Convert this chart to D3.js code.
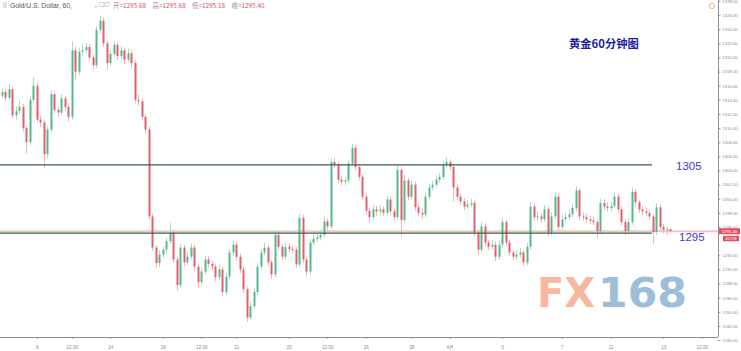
<!DOCTYPE html>
<html>
<head>
<meta charset="utf-8">
<script src="https://cdn.jsdelivr.net/npm/d3@7/dist/d3.min.js"></script>
<style>
    body { margin: 0; background: #fff; }
    svg { display: block; font-family: 'Liberation Sans', Arial, sans-serif; }
    .axis text { fill: #8a8a8a; }
    .axis line { stroke: #9a9a9a; }
</style>
</head>
<body>
<svg id="chart"></svg>
<script>
// hourly candles
const opens = [
    1314.6, 1315.1, 1314.3, 1315.5, 1311.8, 1312.4, 1313.0, 1310.0, 1308.0, 1314.0,
    1316.0, 1311.2, 1310.8, 1306.3, 1309.8, 1314.8, 1312.6, 1312.2, 1314.2, 1313.0,
    1311.6, 1321.0, 1318.0, 1320.8, 1321.0, 1321.5, 1320.0, 1318.9, 1323.9, 1325.2,
    1322.0, 1319.2, 1320.5, 1321.8, 1320.2, 1321.0, 1319.7, 1320.6, 1319.2, 1314.0,
    1313.8, 1311.6, 1309.8, 1297.5, 1293.1, 1290.9, 1292.1, 1292.8, 1294.0, 1295.2,
    1291.4, 1287.8, 1293.1, 1291.0, 1291.8, 1293.1, 1290.4, 1288.2, 1289.7, 1291.4,
    1290.8, 1290.4, 1288.9, 1290.0, 1286.8, 1289.0, 1292.4, 1293.5, 1291.8, 1290.0,
    1287.2, 1283.2, 1284.8, 1286.8, 1290.4, 1292.4, 1293.1, 1291.0, 1289.3, 1294.9,
    1293.2, 1291.8, 1293.2, 1292.9, 1292.8, 1290.7, 1297.3, 1291.4, 1289.7, 1293.8,
    1294.3, 1294.5, 1294.9, 1296.8, 1296.1, 1305.2, 1304.8, 1302.7, 1302.4, 1302.6,
    1305.0, 1307.2, 1304.5, 1303.1, 1300.3, 1298.3, 1297.4, 1298.5, 1298.2, 1298.5,
    1298.0, 1299.9, 1298.2, 1297.4, 1304.1, 1297.0, 1302.6, 1300.3, 1302.0, 1298.8,
    1298.0, 1297.8, 1300.3, 1301.6, 1302.0, 1302.7, 1303.1, 1304.8, 1305.2, 1304.5,
    1301.6, 1300.3, 1299.6, 1298.9, 1299.2, 1299.4, 1295.2, 1292.8, 1296.1, 1293.8,
    1293.2, 1293.5, 1291.8, 1293.5, 1296.7, 1293.8, 1292.4, 1291.8, 1292.1, 1292.4,
    1291.0, 1293.2, 1298.9, 1297.4, 1297.5, 1297.1, 1298.5, 1295.2, 1297.5, 1300.3,
    1296.0, 1297.1, 1297.4, 1297.8, 1298.7, 1301.2, 1297.5, 1297.4, 1297.1, 1296.9,
    1296.7, 1295.4, 1299.4, 1298.9, 1298.7, 1299.0, 1300.3, 1298.5, 1296.7, 1295.4,
    1296.7, 1301.0, 1299.5, 1298.5, 1298.2, 1298.0, 1297.5, 1295.3, 1298.8, 1296.0,
    1295.6, 1295.68
];
const highs = [
    1315.6, 1315.5, 1316.3, 1315.8, 1313.0, 1313.9, 1313.4, 1310.4, 1314.6, 1317.2,
    1316.4, 1311.8, 1311.2, 1310.3, 1315.4, 1315.2, 1313.1, 1314.8, 1314.6, 1313.5,
    1322.3, 1321.5, 1321.4, 1321.8, 1322.1, 1321.9, 1320.4, 1324.4, 1325.9, 1325.6,
    1322.4, 1321.0, 1322.3, 1322.2, 1321.6, 1321.4, 1321.2, 1321.0, 1319.6, 1314.7,
    1314.2, 1312.0, 1310.2, 1297.9, 1293.5, 1292.7, 1293.3, 1294.5, 1296.6, 1295.6,
    1291.8, 1293.6, 1293.5, 1292.4, 1293.7, 1293.5, 1290.8, 1290.3, 1292.0, 1291.9,
    1291.3, 1290.8, 1290.6, 1290.4, 1289.5, 1292.9, 1294.1, 1293.9, 1292.2, 1290.4,
    1287.6, 1285.4, 1287.3, 1290.9, 1292.9, 1293.8, 1293.5, 1291.4, 1295.5, 1295.3,
    1293.6, 1293.8, 1293.7, 1293.4, 1293.2, 1297.9, 1297.7, 1291.8, 1294.3, 1294.9,
    1295.1, 1295.5, 1297.4, 1297.2, 1305.7, 1305.8, 1305.2, 1303.2, 1303.0, 1305.5,
    1307.8, 1307.6, 1304.9, 1303.5, 1300.7, 1298.8, 1299.1, 1299.0, 1299.1, 1298.9,
    1300.4, 1300.3, 1298.6, 1304.8, 1304.5, 1303.4, 1303.0, 1302.6, 1302.4, 1299.3,
    1298.6, 1300.8, 1302.2, 1302.6, 1303.3, 1303.7, 1305.4, 1305.9, 1305.6, 1304.9,
    1302.0, 1300.8, 1300.1, 1299.8, 1300.0, 1299.8, 1295.6, 1296.7, 1296.5, 1294.2,
    1294.1, 1293.9, 1294.0, 1297.3, 1297.1, 1294.2, 1292.8, 1292.7, 1293.0, 1292.8,
    1293.8, 1299.5, 1299.3, 1298.2, 1298.0, 1299.1, 1298.9, 1298.1, 1300.9, 1300.7,
    1297.7, 1298.0, 1298.4, 1299.3, 1301.8, 1301.6, 1298.1, 1297.9, 1297.6, 1297.4,
    1297.1, 1300.0, 1299.9, 1299.4, 1299.6, 1300.9, 1300.7, 1298.9, 1297.1, 1297.3,
    1301.6, 1301.4, 1299.9, 1299.0, 1298.7, 1298.4, 1297.9, 1299.4, 1299.2, 1296.4,
    1296.0, 1295.68
];
const lows = [
    1314.2, 1313.8, 1314.0, 1311.3, 1311.2, 1312.0, 1309.5, 1306.4, 1307.6, 1313.6,
    1310.8, 1310.2, 1304.3, 1305.8, 1309.4, 1312.1, 1311.6, 1311.8, 1312.5, 1310.9,
    1311.2, 1316.8, 1317.5, 1320.2, 1320.6, 1319.5, 1318.3, 1318.5, 1323.4, 1321.5,
    1318.4, 1318.8, 1320.1, 1319.6, 1319.8, 1319.0, 1319.3, 1318.4, 1313.5, 1313.2,
    1311.1, 1309.3, 1297.0, 1292.6, 1290.2, 1290.4, 1291.6, 1292.4, 1293.6, 1290.9,
    1287.0, 1287.4, 1290.5, 1290.6, 1291.4, 1289.8, 1287.4, 1287.8, 1289.3, 1290.3,
    1289.9, 1288.3, 1288.5, 1286.2, 1286.4, 1288.6, 1292.0, 1291.3, 1289.5, 1286.7,
    1282.6, 1282.9, 1284.4, 1286.4, 1290.0, 1292.0, 1290.5, 1288.7, 1288.9, 1292.7,
    1291.3, 1291.4, 1292.4, 1292.3, 1290.2, 1290.3, 1290.9, 1289.1, 1289.3, 1293.4,
    1293.9, 1294.1, 1294.5, 1295.6, 1295.7, 1304.3, 1302.2, 1301.9, 1301.9, 1302.2,
    1304.6, 1304.0, 1302.6, 1299.8, 1297.8, 1296.6, 1297.0, 1297.6, 1297.8, 1297.5,
    1297.6, 1297.7, 1296.8, 1297.0, 1294.6, 1296.6, 1299.8, 1299.9, 1298.3, 1297.5,
    1297.2, 1297.4, 1299.9, 1301.2, 1301.6, 1302.3, 1302.7, 1304.4, 1304.0, 1299.6,
    1299.8, 1299.1, 1298.4, 1298.5, 1298.8, 1294.7, 1292.0, 1292.4, 1293.3, 1292.7,
    1292.8, 1291.2, 1291.4, 1293.1, 1293.3, 1291.9, 1291.3, 1291.4, 1291.7, 1290.5,
    1290.6, 1292.8, 1296.9, 1296.9, 1296.6, 1296.7, 1294.6, 1294.8, 1297.1, 1295.5,
    1295.6, 1296.7, 1297.0, 1297.4, 1298.3, 1297.0, 1296.9, 1296.6, 1296.4, 1296.2,
    1294.5, 1295.0, 1298.4, 1298.2, 1298.3, 1298.6, 1298.0, 1296.2, 1294.8, 1295.0,
    1296.3, 1299.0, 1298.0, 1297.7, 1297.5, 1297.0, 1293.6, 1294.9, 1295.5, 1295.1,
    1294.9, 1295.18
];
const closes = [
    1315.1, 1314.3, 1315.5, 1311.8, 1312.4, 1313.0, 1310.0, 1308.0, 1314.0, 1316.0,
    1311.2, 1310.8, 1306.3, 1309.8, 1314.8, 1312.6, 1312.2, 1314.2, 1313.0, 1311.6,
    1321.0, 1318.0, 1320.8, 1321.0, 1321.5, 1320.0, 1318.9, 1323.9, 1325.2, 1322.0,
    1319.2, 1320.5, 1321.8, 1320.2, 1321.0, 1319.7, 1320.6, 1319.2, 1314.0, 1313.8,
    1311.6, 1309.8, 1297.5, 1293.1, 1290.9, 1292.1, 1292.8, 1294.0, 1295.2, 1291.4,
    1287.8, 1293.1, 1291.0, 1291.8, 1293.1, 1290.4, 1288.2, 1289.7, 1291.4, 1290.8,
    1290.4, 1288.9, 1290.0, 1286.8, 1289.0, 1292.4, 1293.5, 1291.8, 1290.0, 1287.2,
    1283.2, 1284.8, 1286.8, 1290.4, 1292.4, 1293.1, 1291.0, 1289.3, 1294.9, 1293.2,
    1291.8, 1293.2, 1292.9, 1292.8, 1290.7, 1297.3, 1291.4, 1289.7, 1293.8, 1294.3,
    1294.5, 1294.9, 1296.8, 1296.1, 1305.2, 1304.8, 1302.7, 1302.4, 1302.6, 1305.0,
    1307.2, 1304.5, 1303.1, 1300.3, 1298.3, 1297.4, 1298.5, 1298.2, 1298.5, 1298.0,
    1299.9, 1298.2, 1297.4, 1304.1, 1297.0, 1302.6, 1300.3, 1302.0, 1298.8, 1298.0,
    1297.8, 1300.3, 1301.6, 1302.0, 1302.7, 1303.1, 1304.8, 1305.2, 1304.5, 1301.6,
    1300.3, 1299.6, 1298.9, 1299.2, 1299.4, 1295.2, 1292.8, 1296.1, 1293.8, 1293.2,
    1293.5, 1291.8, 1293.5, 1296.7, 1293.8, 1292.4, 1291.8, 1292.1, 1292.4, 1291.0,
    1293.2, 1298.9, 1297.4, 1297.5, 1297.1, 1298.5, 1295.2, 1297.5, 1300.3, 1296.0,
    1297.1, 1297.4, 1297.8, 1298.7, 1301.2, 1297.5, 1297.4, 1297.1, 1296.9, 1296.7,
    1295.4, 1299.4, 1298.9, 1298.7, 1299.0, 1300.3, 1298.5, 1296.7, 1295.4, 1296.7,
    1301.0, 1299.5, 1298.5, 1298.2, 1298.0, 1297.5, 1295.3, 1298.8, 1296.0, 1295.6,
    1295.7, 1295.40
];

// 1294.00 is hidden behind the price tags in the picture
const priceTicks = [1328, 1326, 1324, 1322, 1320, 1318, 1316, 1314, 1312, 1310, 1308, 1306, 1304,
    1302, 1300, 1298, 1296, 1292, 1290, 1288, 1286, 1284, 1282, 1280];
// candle index where each time label sits
const timeTickIdx = [10, 20, 31, 46, 57, 67, 82, 93, 104, 117, 128, 143, 160, 174, 189, 200];
const timeTickLabels = ['6', '12:00', '14', '18', '12:00', '21', '25', '12:00', '26', '28', '4月', '5', '7', '11', '13', '12:00'];

// drawn support / resistance lines
const levels = [1304.8, 1295.15];
const levelLabels = ['1305', '1295'];
const lastPrice = 1295.40;
const ohlcLabels = ['开=', '高=', '低=', '收='];
const ohlcValues = ['1295.68', '1295.68', '1295.18', '1295.40'];

class CandleChart {
    constructor(_config) {
        this.config = {
            parentElement: _config.parentElement,
            containerWidth: _config.containerWidth || 741,
            containerHeight: _config.containerHeight || 351,
            plotRight: 718,
            plotBottom: 337
        }

        this.data = opens.map((o, i) => ({ i: i, o: o, h: highs[i], l: lows[i], c: closes[i] }));

        this.initVis();
    }

    initVis() {
        let vis = this;

        vis.xScale = d3.scaleLinear()
            .domain([-0.5, opens.length - 0.5])
            .range([0, 672]);

        vis.yScale = d3.scaleLinear()
            .domain([1280, 1328])
            .range([340.1, 0.9]);

        vis.svg = d3.select(vis.config.parentElement)
            .attr('width', vis.config.containerWidth)
            .attr('height', vis.config.containerHeight);

        vis.chart = vis.svg.append('g');

        vis.renderVis();
    }

    renderVis() {
        let vis = this;
        const x = vis.xScale, y = vis.yScale;
        const R = vis.config.plotRight, B = vis.config.plotBottom;

        // watermark
        vis.chart.append('text')
            .attr('x', 537).attr('y', 307)
            .attr('textLength', 58).attr('lengthAdjust', 'spacingAndGlyphs')
            .style('font-family', 'DejaVu Sans').style('font-weight', 'bold').style('font-size', '41px')
            .attr('fill', '#f7b7a0')
            .text('FX');
        vis.chart.append('text')
            .attr('x', 598).attr('y', 307)
            .attr('textLength', 89).attr('lengthAdjust', 'spacingAndGlyphs')
            .style('font-family', 'DejaVu Sans').style('font-weight', 'bold').style('font-size', '41px')
            .attr('fill', '#9ebdd7')
            .text('168');

        // last price line
        vis.chart.append('line')
            .attr('x1', 0).attr('x2', R)
            .attr('y1', y(lastPrice)).attr('y2', y(lastPrice))
            .attr('stroke', '#f4c4ca').attr('stroke-width', 2);

        // candles
        const candle = vis.chart.selectAll('.candle')
            .data(vis.data)
            .join('g')
            .attr('class', 'candle');

        candle.append('line')
            .attr('x1', d => Math.round(x(d.i)) + 0.5)
            .attr('x2', d => Math.round(x(d.i)) + 0.5)
            .attr('y1', d => y(d.h))
            .attr('y2', d => y(d.l))
            .attr('stroke', d => d.c >= d.o ? '#a9dcc4' : '#f3b3ba')
            .attr('stroke-width', 1);

        candle.append('rect')
            .attr('x', d => Math.round(x(d.i)) - 0.5)
            .attr('width', 2)
            .attr('y', d => y(Math.max(d.o, d.c)))
            .attr('height', d => Math.max(1, Math.abs(y(d.o) - y(d.c))))
            .attr('fill', d => d.c >= d.o ? '#55b98c' : '#e2606c');

        // level lines and their labels
        vis.chart.selectAll('.level')
            .data(levels)
            .join('line')
            .attr('class', 'level')
            .attr('x1', 0).attr('x2', 652)
            .attr('y1', d => y(d)).attr('y2', d => y(d))
            .attr('stroke', (d, i) => i == 0 ? '#3b5a5b' : '#2f6a3f')
            .attr('stroke-width', 1.3);

        vis.chart.selectAll('.levelLabel')
            .data(levels)
            .join('text')
            .attr('class', 'levelLabel')
            .attr('x', (d, i) => i == 0 ? 676 : 679)
            .attr('y', (d, i) => y(d) + (i == 0 ? 5.5 : 7.5))
            .style('font-size', '11.5px')
            .attr('fill', '#3c3ccc')
            .text((d, i) => levelLabels[i]);

        // axes
        vis.yAxis = d3.axisRight(y)
            .tickValues(priceTicks)
            .tickFormat(d3.format('.2f'))
            .tickSize(2.5)
            .tickPadding(2);
        vis.yAxisG = vis.chart.append('g')
            .attr('class', 'axis y-axis')
            .attr('transform', `translate(${R},0)`)
            .call(vis.yAxis);
        vis.yAxisG.select('.domain').remove();
        vis.yAxisG.selectAll('text').style('font-size', '4.2px');

        vis.xAxis = d3.axisBottom(x)
            .tickValues(timeTickIdx)
            .tickFormat((d, k) => timeTickLabels[k])
            .tickSize(2)
            .tickPadding(6.5);
        vis.xAxisG = vis.chart.append('g')
            .attr('class', 'axis x-axis')
            .attr('transform', `translate(0,${B})`)
            .call(vis.xAxis);
        vis.xAxisG.select('.domain').remove();
        vis.xAxisG.selectAll('text').style('font-size', '4.6px');

        vis.chart.append('line')
            .attr('x1', R + 0.5).attr('x2', R + 0.5)
            .attr('y1', 0).attr('y2', B)
            .attr('stroke', '#8c8c8c');
        vis.chart.append('line')
            .attr('x1', 0).attr('x2', R)
            .attr('y1', B + 0.5).attr('y2', B + 0.5)
            .attr('stroke', '#8c8c8c');

        // last price tags
        vis.chart.append('rect')
            .attr('x', 719).attr('y', y(lastPrice) - 3)
            .attr('width', 21).attr('height', 6)
            .attr('fill', '#e5505f');
        vis.chart.append('text')
            .attr('x', 729.5).attr('y', y(lastPrice) + 1.5)
            .attr('text-anchor', 'middle')
            .style('font-size', '4.3px').attr('fill', '#fff')
            .text(lastPrice.toFixed(2));
        vis.chart.append('rect')
            .attr('x', 723).attr('y', y(lastPrice) + 4.5)
            .attr('width', 16).attr('height', 5.5)
            .attr('fill', '#e5505f');
        vis.chart.append('text')
            .attr('x', 731).attr('y', y(lastPrice) + 8.8)
            .attr('text-anchor', 'middle')
            .style('font-size', '4.3px').attr('fill', '#fff')
            .text('42:59');

        // header
        const head = vis.chart.append('g').attr('class', 'header');
        [3, 5, 7].forEach(yy => {
            head.append('line')
                .attr('x1', 3).attr('x2', 7).attr('y1', yy).attr('y2', yy)
                .attr('stroke', '#b0b0b0').attr('stroke-width', 0.8);
        });
        head.append('text')
            .attr('x', 10).attr('y', 7.5)
            .style('font-size', '6.8px').attr('fill', '#555')
            .text('Gold/U.S. Dollar, 60,');
        head.append('text')
            .attr('x', 94).attr('y', 7.5)
            .style('font-size', '6px').attr('fill', '#bbb')
            .text('+');
        [100, 105].forEach(xx => {
            head.append('rect')
                .attr('x', xx).attr('y', 2.5).attr('width', 4).attr('height', 4)
                .attr('fill', 'none').attr('stroke', '#c4c4c4').attr('stroke-width', 0.7);
        });
        ohlcLabels.forEach((lab, i) => {
            const t = head.append('text')
                .attr('x', 113 + i * 39.5).attr('y', 7.5)
                .style('font-family', "'Noto Sans CJK SC', 'Liberation Sans', sans-serif")
                .style('font-size', '6.4px');
            t.append('tspan').attr('fill', '#9a8a8c').text(lab);
            t.append('tspan').attr('fill', '#e0505e').text(ohlcValues[i]);
        });

        // small alert icon at top right
        vis.chart.append('circle')
            .attr('cx', 712).attr('cy', 6).attr('r', 2.6)
            .attr('fill', 'none').attr('stroke', '#f0a35a').attr('stroke-width', 0.8);

        // title
        vis.chart.append('text')
            .attr('x', 569).attr('y', 48)
            .style('font-family', "'Noto Sans CJK SC', sans-serif")
            .style('font-weight', 'bold').style('font-size', '11.3px')
            .attr('fill', '#1d1da0')
            .text('黄金60分钟图');
    }
}

let chart = new CandleChart({ parentElement: '#chart' });
</script>
</body>
</html>
